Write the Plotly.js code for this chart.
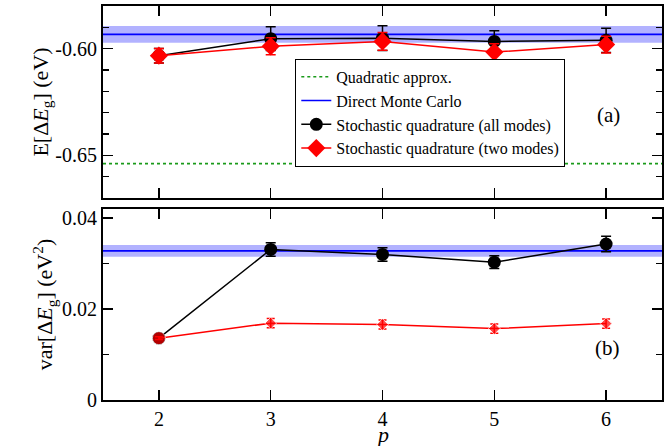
<!DOCTYPE html>
<html>
<head>
<meta charset="utf-8">
<script src="https://cdn.plot.ly/plotly-3.0.1.min.js"></script>
<style>html,body{margin:0;padding:0;background:#fff;}#chart{width:672px;height:446px;}</style>
</head>
<body>
<div id="chart"></div>
<script>
// ---- data ----
var p = [2, 3, 4, 5, 6];
var xSpan = [1.5, 6.5];

// panel (a): E[ΔEg] (eV)
var meanAll    = [-0.6033, -0.5953, -0.5951, -0.5966, -0.5961];
var meanAllErr = [0.0034, 0.0056, 0.0058, 0.0050, 0.0057];
var meanTwo    = [-0.6033, -0.5989, -0.5966, -0.6016, -0.5981];
var meanTwoErr = [0.0034, 0.0040, 0.0042, 0.0039, 0.0039];
var mcMean = -0.5933, mcMeanErr = 0.0039;
var quadMean = -0.6539;

// panel (b): var[ΔEg] (eV^2)
var varAll    = [0.0136, 0.0331, 0.0320, 0.0303, 0.0343];
var varAllErr = [0.0003, 0.0015, 0.0015, 0.0014, 0.0017];
var varTwo    = [0.0136, 0.0169, 0.0166, 0.0157, 0.0168];
var varTwoErr = [0.0003, 0.0010, 0.0010, 0.0010, 0.0010];
var mcVar = 0.0328, mcVarErr = 0.0013;

var legendNames = ['Quadratic approx.', 'Direct Monte Carlo',
  'Stochastic quadrature (all modes)', 'Stochastic quadrature (two modes)'];
var xTickVals = [2, 3, 4, 5, 6];
var xTickText = ['2', '3', '4', '5', '6'];
var yTopTickVals = [-0.65, -0.60];
var yTopTickText = ['-0.65', '-0.60'];
var yBotTickVals = [0, 0.02, 0.04];
var yBotTickText = ['0', '0.02', '0.04'];

var FONT = '"Liberation Serif", "Times New Roman", Times, serif';
var bandColor = 'rgba(0,0,255,0.3)';

function band(y, e, xa, ya) {
  return {x: [xSpan[0], xSpan[1], xSpan[1], xSpan[0]], y: [y - e, y - e, y + e, y + e],
    xaxis: xa, yaxis: ya, mode: 'lines', fill: 'toself', fillcolor: bandColor,
    line: {width: 0}, showlegend: false, hoverinfo: 'skip'};
}
function hline(y, xa, ya, color, dash, name, show) {
  return {x: xSpan, y: [y, y], xaxis: xa, yaxis: ya, mode: 'lines', name: name,
    showlegend: show, line: {color: color, width: 1.6, dash: dash}};
}

var traces = [
  band(mcMean, mcMeanErr, 'x', 'y'),
  band(mcVar, mcVarErr, 'x2', 'y2'),
  Object.assign(hline(quadMean, 'x', 'y', '#1a9a1a', 'dot', legendNames[0], true), {legendrank: 1}),
  Object.assign(hline(mcMean, 'x', 'y', '#0000ff', 'solid', legendNames[1], true), {legendrank: 2}),
  hline(mcVar, 'x2', 'y2', '#0000ff', 'solid', legendNames[1], false),
  {x: p, y: meanAll, xaxis: 'x', yaxis: 'y', mode: 'lines+markers', name: legendNames[2], legendrank: 3,
   line: {color: '#000', width: 1.5}, marker: {symbol: 'circle', size: 13, color: '#000'},
   error_y: {type: 'data', array: meanAllErr, visible: true, color: '#000', thickness: 1.5, width: 5}},
  {x: p, y: meanTwo, xaxis: 'x', yaxis: 'y', mode: 'lines+markers', name: legendNames[3], legendrank: 4,
   line: {color: '#ff0000', width: 1.5}, marker: {symbol: 'diamond', size: 14, color: '#ff0000'},
   error_y: {type: 'data', array: meanTwoErr, visible: true, color: '#ff0000', thickness: 1.5, width: 5}},
  {x: p, y: varAll, xaxis: 'x2', yaxis: 'y2', mode: 'lines+markers', showlegend: false,
   line: {color: '#000', width: 1.5}, marker: {symbol: 'circle', size: 13, color: '#000'},
   error_y: {type: 'data', array: varAllErr, visible: true, color: '#000', thickness: 1.5, width: 5}},
  {x: p, y: varTwo, xaxis: 'x2', yaxis: 'y2', mode: 'lines+markers', showlegend: false,
   line: {color: '#ff0000', width: 1.5},
   marker: {symbol: ['circle', 'diamond', 'diamond', 'diamond', 'diamond'], size: [13, 9, 9, 9, 9], color: '#ff0000'},
   error_y: {type: 'data', array: varTwoErr, visible: true, color: '#ff0000', thickness: 1.5, width: 4}}
];

var axCommon = {showline: true, linecolor: '#000', linewidth: 2, mirror: 'allticks',
  ticks: 'inside', ticklen: 10, tickwidth: 1.5, tickcolor: '#000', showgrid: false, zeroline: false,
  tickfont: {family: FONT, size: 20, color: '#000'}};

var layout = {
  width: 672, height: 446,
  margin: {l: 103, r: 10, t: 6, b: 46},
  paper_bgcolor: '#fff', plot_bgcolor: '#fff',
  font: {family: FONT, color: '#000'},
  showlegend: true,
  legend: {x: 0.344, y: 0.866, xanchor: 'left', yanchor: 'top', bgcolor: '#fff',
    bordercolor: '#000', borderwidth: 1, font: {family: FONT, size: 16, color: '#000'},
    traceorder: 'normal', itemwidth: 30, tracegroupgap: 0},
  xaxis: Object.assign({}, axCommon, {anchor: 'y', range: xSpan, tickvals: xTickVals,
    ticktext: xTickText, showticklabels: false}),
  yaxis: Object.assign({}, axCommon, {domain: [0.5127, 1], range: [-0.67, -0.58],
    tickvals: yTopTickVals, ticktext: yTopTickText,
    minor: {dtick: 0.01, tick0: -0.6, ticks: 'inside', ticklen: 6, tickwidth: 1.5, tickcolor: '#000'},
    title: {text: 'E[Δ<i>E</i><sub>g</sub>] (eV)', standoff: 0, font: {family: FONT, size: 22, color: '#000'}}}),
  xaxis2: Object.assign({}, axCommon, {anchor: 'y2', range: xSpan, tickvals: xTickVals,
    ticktext: xTickText}),
  yaxis2: Object.assign({}, axCommon, {domain: [0, 0.4848], range: [0, 0.042],
    tickvals: yBotTickVals, ticktext: yBotTickText,
    minor: {dtick: 0.01, tick0: 0, ticks: 'inside', ticklen: 6, tickwidth: 1.5, tickcolor: '#000'},
    title: {text: 'var[Δ<i>E</i><sub>g</sub>] (eV<sup>2</sup>)', standoff: 3, font: {family: FONT, size: 22, color: '#000'}}}),
  annotations: [
    {text: '<i>p</i>', xref: 'paper', yref: 'paper', x: 0.5, y: -0.124, yanchor: 'bottom', showarrow: false,
     font: {family: FONT, size: 22, color: '#000'}},
    {text: '(a)', xref: 'paper', yref: 'paper', x: 0.928, y: 0.759, showarrow: false,
     font: {family: FONT, size: 21, color: '#000'}},
    {text: '(b)', xref: 'paper', yref: 'paper', x: 0.928, y: 0.096, showarrow: false,
     font: {family: FONT, size: 21, color: '#000'}}
  ]
};

Plotly.newPlot('chart', traces, layout, {displayModeBar: false, staticPlot: true});
</script>
</body>
</html>
